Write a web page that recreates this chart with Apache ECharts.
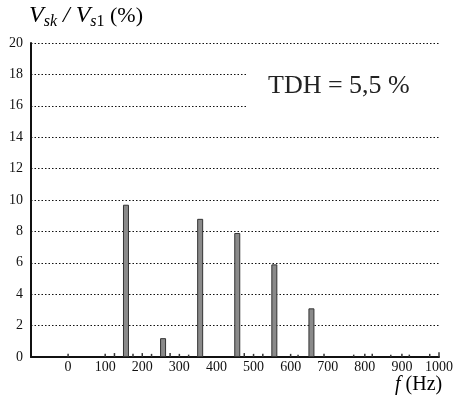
<!DOCTYPE html>
<html>
<head>
<meta charset="utf-8">
<script src="https://cdn.jsdelivr.net/npm/echarts@6/dist/echarts.min.js"></script>
<style>
  html, body { margin: 0; padding: 0; background: #fff; }
  #chart { width: 456px; height: 398px; }
</style>
</head>
<body>
<div id="chart"></div>
<script>
// Harmonic spectrum of the voltage (odd harmonics of 50 Hz)
const harmonicFreqs = [150, 250, 350, 450, 550, 650];
const harmonicLevels = [9.7, 1.2, 8.8, 7.9, 5.9, 3.1];

// Small residual components along the baseline
const residualFreqs = [0, 100, 125, 175, 200, 225, 275, 300, 325, 475, 500, 525, 600, 620, 690, 770, 800, 820, 870, 900, 920, 975, 1000];
const residualLevels = [0.2, 0.2, 0.25, 0.2, 0.25, 0.2, 0.25, 0.2, 0.15, 0.25, 0.2, 0.2, 0.2, 0.15, 0.2, 0.15, 0.2, 0.2, 0.15, 0.2, 0.15, 0.2, 0.3];

const xTicks = [0, 100, 200, 300, 400, 500, 600, 700, 800, 900, 1000];
const yTicks = [0, 2, 4, 6, 8, 10, 12, 14, 16, 18, 20];

const serif = '"Liberation Serif", "DejaVu Serif", serif';

const chart = echarts.init(document.getElementById('chart'), null, { renderer: 'canvas' });

chart.setOption({
  animation: false,
  backgroundColor: '#fff',
  grid: { left: 31, right: 17, top: 43, bottom: 41, containLabel: false },
  xAxis: {
    type: 'value',
    min: -100,
    max: 1000,
    interval: 100,
    axisLine: { show: true, onZero: false, lineStyle: { color: '#111', width: 2 } },
    axisTick: { show: false },
    splitLine: { show: false },
    axisLabel: {
      color: '#111',
      fontFamily: serif,
      fontSize: 14,
      margin: 3,
      formatter: v => (xTicks.includes(v) ? String(v) : '')
    }
  },
  yAxis: {
    type: 'value',
    min: 0,
    max: 20,
    interval: 2,
    axisLine: { show: true, onZero: false, lineStyle: { color: '#111', width: 2 } },
    axisTick: { show: false },
    splitLine: { show: true, lineStyle: { color: '#111', type: [1.5, 2], width: 1.2 } },
    axisLabel: {
      color: '#111',
      fontFamily: serif,
      fontSize: 14,
      margin: 8,
      formatter: v => (yTicks.includes(v) ? String(v) : '')
    }
  },
  series: [
    {
      type: 'bar',
      name: 'harmonics',
      data: harmonicFreqs.map((f, i) => [f, harmonicLevels[i]]),
      barWidth: 6,
      barGap: '-100%',
      itemStyle: { color: '#8a8a8a', borderColor: '#333', borderWidth: 1 },
      z: 3
    },
    {
      type: 'bar',
      name: 'residual',
      data: residualFreqs.map((f, i) => [f, residualLevels[i]]),
      barWidth: 1.5,
      barGap: '-100%',
      itemStyle: { color: '#333' },
      z: 3
    }
  ],
  graphic: [
    {
      // clear band behind the distortion annotation
      type: 'rect',
      left: 246,
      top: 62,
      shape: { width: 200, height: 58 },
      style: { fill: '#fff' },
      z: 1
    },
    {
      type: 'text',
      left: 268,
      top: 73,
      style: {
        text: 'TDH = 5,5 %',
        font: '26px ' + serif,
        fill: '#222'
      },
      z: 5
    },
    {
      type: 'text',
      left: 29,
      top: 4,
      style: {
        text: '{v|V}{s|sk}{v| / V}{s|s}{n|1}{p| (%)}',
        rich: {
          v: { fontFamily: serif, fontStyle: 'italic', fontSize: 24, color: '#111' },
          s: { fontFamily: serif, fontStyle: 'italic', fontSize: 16, color: '#111', padding: [12, 0, 0, 0] },
          n: { fontFamily: serif, fontSize: 16, color: '#111', padding: [12, 0, 0, 0] },
          p: { fontFamily: serif, fontSize: 22, color: '#111' }
        }
      },
      z: 5
    },
    {
      type: 'text',
      left: 395,
      top: 375,
      style: {
        text: '{i|f}{p| (Hz)}',
        rich: {
          i: { fontFamily: serif, fontStyle: 'italic', fontSize: 20, color: '#111' },
          p: { fontFamily: serif, fontSize: 20, color: '#111' }
        }
      },
      z: 5
    }
  ]
});
</script>
</body>
</html>
